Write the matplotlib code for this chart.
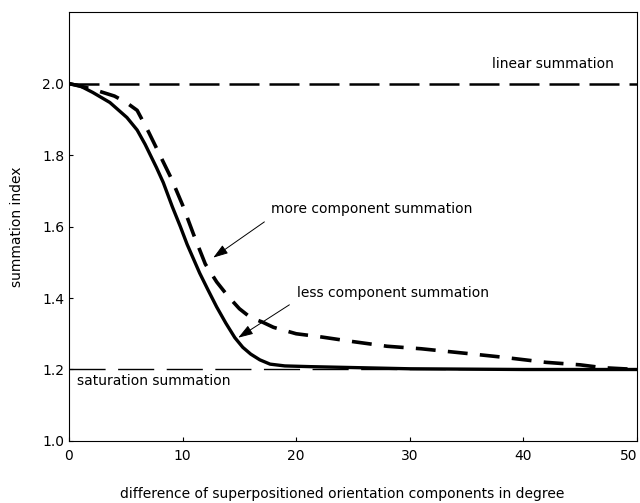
import matplotlib

matplotlib.use("Agg")
import matplotlib.pyplot as plt

# solid curve: less component summation
less_x = [0, 1, 2.1, 3.6, 5.1, 6.0, 6.7, 7.7, 8.3, 9.1, 9.8, 10.4, 11.5, 12.2,
          13.0, 13.8, 14.6, 15.3, 16.0, 16.8, 17.7, 19, 21.2, 25.6, 30, 40, 50]
less_y = [2.0, 1.993, 1.975, 1.947, 1.905, 1.87, 1.83, 1.765, 1.723, 1.655,
          1.60, 1.55, 1.47, 1.425, 1.375, 1.33, 1.289, 1.262, 1.243, 1.227,
          1.215, 1.21, 1.208, 1.205, 1.202, 1.2, 1.2]

# dashed curve: more component summation
more_x = [0, 2, 4, 5, 6, 7, 8, 9, 10, 11, 12, 13, 14, 15, 16, 17, 18, 20, 22,
          25, 28, 31, 35, 38, 42, 45, 47, 50]
more_y = [2.0, 1.985, 1.965, 1.948, 1.925, 1.865, 1.80, 1.735, 1.66, 1.575,
          1.495, 1.445, 1.405, 1.37, 1.345, 1.333, 1.318, 1.30, 1.292, 1.278,
          1.265, 1.258, 1.245, 1.235, 1.22, 1.213, 1.205, 1.2]

linear_level = 2.0
saturation_level = 1.2

xticks = [0, 10, 20, 30, 40, 50]
yticks = [1.0, 1.2, 1.4, 1.6, 1.8, 2.0]

plt.rcParams["font.family"] = ["DejaVu Sans"]
FS = 10

fig = plt.figure(figsize=(6.4, 5.03), dpi=100)
ax = fig.add_axes([0.1078, 0.1233, 0.8875, 0.8527])

ax.axhline(linear_level, color="black", lw=1.8, dashes=(12, 4))
ax.axhline(saturation_level, color="black", lw=1.0, dashes=(26, 9))
ax.plot(less_x, less_y, color="black", lw=2.4, solid_joinstyle="round")
ax.plot(more_x, more_y, color="black", lw=2.6, dashes=(5.5, 3.4))

ax.text(37.2, 2.056, "linear summation", fontsize=FS, va="center")
ax.text(17.8, 1.65, "more component summation", fontsize=FS, va="center")
ax.text(20.05, 1.415, "less component summation", fontsize=FS, va="center")
ax.text(0.7, 1.168, "saturation summation", fontsize=FS, va="center")

arrow = dict(arrowstyle="-|>,head_length=0.9,head_width=0.3", color="black",
             lw=0.7, shrinkA=0, shrinkB=0)
ax.annotate("", xy=(12.7, 1.513), xytext=(17.2, 1.613), arrowprops=arrow)
ax.annotate("", xy=(14.9, 1.289), xytext=(19.4, 1.381), arrowprops=arrow)

ax.set_xlim(0, 50)
ax.set_ylim(1.0, 2.2)
ax.set_xticks(xticks)
ax.set_yticks(yticks)
ax.set_yticklabels([f"{v:.1f}" for v in yticks])
ax.tick_params(direction="in", length=3, labelsize=FS, width=0.8)
ax.tick_params(axis="x", pad=6)
ax.get_xticklabels()[-1].set_ha("right")
for s in ax.spines.values():
    s.set_linewidth(0.8)

ax.set_ylabel("summation index", fontsize=FS, labelpad=13)
fig.text(0.534, 0.01, "difference of superpositioned orientation components in degree",
         fontsize=FS, ha="center")

fig.savefig("out.png", dpi=100)
